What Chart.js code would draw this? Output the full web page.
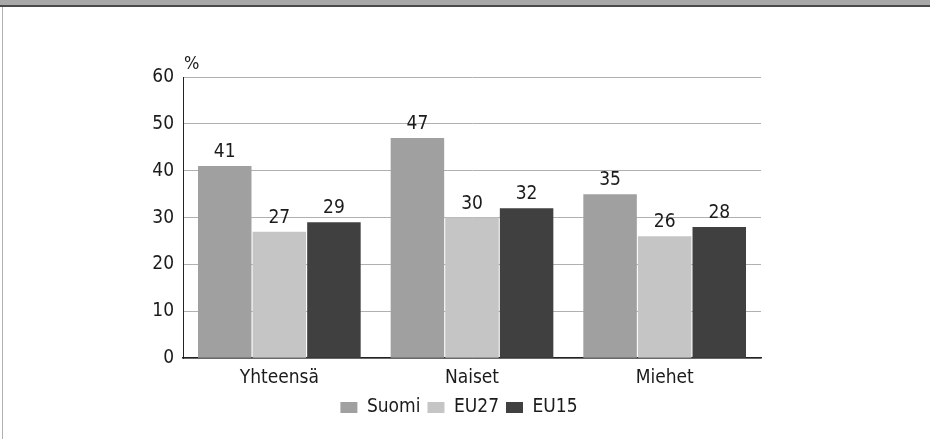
<!DOCTYPE html>
<html>
<head>
<meta charset="utf-8">
<script src="https://cdn.jsdelivr.net/npm/chart.js@4/dist/chart.umd.min.js"></script>
<style>
  html, body { margin: 0; padding: 0; background: #fff; }
  #wrap { position: relative; width: 930px; height: 439px; overflow: hidden; }
  #band { position: absolute; left: 0; top: 0; width: 930px; height: 5px; background: #a8a8a8; border-bottom: 2px solid #4a4a4a; }
  #edge { position: absolute; left: 2px; top: 7px; width: 1px; height: 432px; background: #b0b0b0; }
  canvas { position: absolute; left: 0; top: 0; }
</style>
</head>
<body>
<div id="wrap">
  <canvas id="chart" width="930" height="439"></canvas>
  <div id="band"></div>
  <div id="edge"></div>
</div>
<script>
const categories = ['Yhteensä', 'Naiset', 'Miehet'];
const suomi = [41, 47, 35];
const eu27 = [27, 30, 26];
const eu15 = [29, 32, 28];
const yTicks = [0, 10, 20, 30, 40, 50, 60];

const FONT = "'DejaVu Sans Condensed', 'DejaVu Sans', sans-serif";
const TEXT = '#1b1b1b';

// arvot palkkien päälle
const valueLabels = {
    id: 'valueLabels',
    afterDatasetsDraw(chart) {
        const ctx = chart.ctx;
        ctx.save();
        ctx.font = '19px ' + FONT;
        ctx.fillStyle = TEXT;
        ctx.textAlign = 'center';
        ctx.textBaseline = 'alphabetic';
        chart.data.datasets.forEach((ds, i) => {
            chart.getDatasetMeta(i).data.forEach((bar, j) => {
                ctx.fillText(ds.data[j], bar.x, bar.y - 9);
            });
        });
        ctx.restore();
    }
};

// "%" y-akselin yläpuolelle
const unitLabel = {
    id: 'unitLabel',
    afterDraw(chart) {
        const ctx = chart.ctx;
        ctx.save();
        ctx.font = '18px ' + FONT;
        ctx.fillStyle = TEXT;
        ctx.textAlign = 'left';
        ctx.textBaseline = 'alphabetic';
        ctx.fillText('%', chart.chartArea.left + 1, chart.chartArea.top - 8);
        ctx.restore();
    }
};

// selite hieman oikealle, kuten alkuperäisessä
const legendShift = {
    id: 'legendShift',
    afterUpdate(chart) {
        const lg = chart.legend;
        if (!lg) return;
        lg.left += 7;
        lg.right += 7;
        lg.adjustHitBoxes();
    }
};

new Chart(document.getElementById('chart'), {
    type: 'bar',
    data: {
        labels: categories,
        datasets: [
            { label: 'Suomi', data: suomi, backgroundColor: '#a0a0a0' },
            { label: 'EU27', data: eu27, backgroundColor: '#c5c5c5' },
            { label: 'EU15', data: eu15, backgroundColor: '#404040' }
        ]
    },
    options: {
        responsive: false,
        animation: false,
        devicePixelRatio: 1,
        layout: { padding: { left: 143, right: 169, top: 77, bottom: 12 } },
        datasets: { bar: { categoryPercentage: 0.85, barPercentage: 0.98 } },
        plugins: {
            legend: {
                position: 'bottom',
                labels: {
                    font: { family: FONT, size: 19 },
                    color: TEXT,
                    boxWidth: 17,
                    boxHeight: 11,
                    padding: 7
                }
            },
            tooltip: { enabled: false }
        },
        scales: {
            x: {
                grid: { display: false, drawTicks: false },
                border: { color: '#222', width: 1.5 },
                ticks: { font: { family: FONT, size: 19 }, color: TEXT, padding: 8 },
                afterFit: s => { s.height -= 6; }
            },
            y: {
                min: 0,
                max: 60,
                afterFit: s => { s.width = 40; },
                afterBuildTicks: s => { s.ticks = yTicks.map(v => ({ value: v })); },
                grid: { color: '#b0b0b0', lineWidth: 1, drawTicks: false },
                border: { color: '#222', width: 1 },
                ticks: { font: { family: FONT, size: 19 }, color: TEXT, padding: 9 }
            }
        }
    },
    plugins: [valueLabels, unitLabel, legendShift]
});
</script>
</body>
</html>
